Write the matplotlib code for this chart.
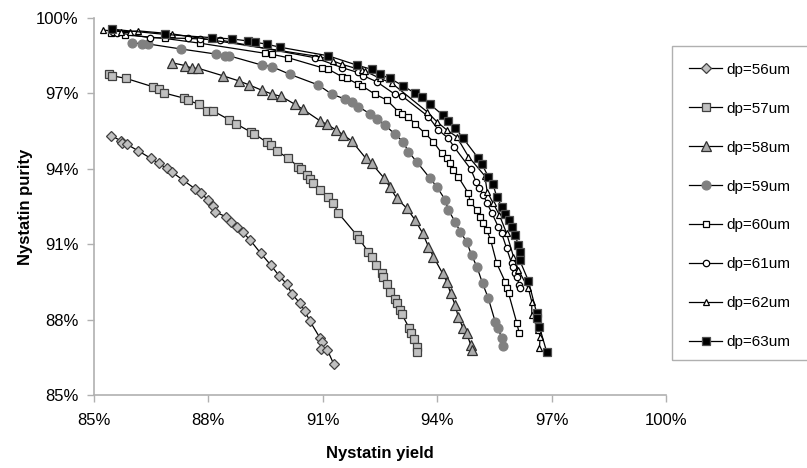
import numpy as np
import matplotlib as mpl
mpl.use('Agg')
import matplotlib.pyplot as plt
from matplotlib.ticker import FuncFormatter
from matplotlib.patches import Rectangle

plt.rcParams['font.family'] = ['Liberation Sans', 'DejaVu Sans']

# yield [%] / purity [%] for each particle diameter
yield56 = [85.45,85.71,85.74,85.86,86.15,86.49,86.70,86.91,87.05,87.33,87.66,87.80,88.00,88.13,88.18,88.46,88.60,
           88.74,88.90,89.09,89.37,89.64,89.86,90.05,90.19,90.40,90.53,90.66,90.93,90.99,90.96,91.12,91.29]
pur56   = [95.31,95.11,95.01,94.97,94.72,94.41,94.21,94.01,93.86,93.55,93.19,93.02,92.76,92.52,92.28,92.09,91.89,
           91.70,91.47,91.17,90.64,90.16,89.73,89.42,89.02,88.65,88.34,87.94,87.26,87.11,86.82,86.79,86.22]

yield57 = [85.39,85.46,85.84,86.56,86.70,86.84,87.37,87.46,87.76,87.96,88.13,88.54,88.72,89.12,89.20,89.53,89.63,
           89.79,90.09,90.36,90.42,90.58,90.66,90.74,90.93,91.13,91.28,91.41,91.89,91.96,92.19,92.28,92.40,92.55,
           92.59,92.69,92.76,92.89,92.94,93.03,93.07,93.27,93.31,93.39,93.46,93.46]
pur57   = [97.75,97.70,97.59,97.25,97.17,97.01,96.80,96.72,96.56,96.29,96.29,95.95,95.79,95.45,95.39,95.05,94.94,
           94.72,94.41,94.08,93.99,93.75,93.59,93.44,93.15,92.86,92.62,92.23,91.36,91.19,90.70,90.50,90.17,89.84,
           89.71,89.42,89.11,88.81,88.65,88.38,88.22,87.65,87.48,87.22,86.92,86.72]

yield58 = [87.05,87.39,87.58,87.74,88.37,88.80,89.07,89.40,89.68,89.90,90.27,90.47,90.93,91.10,91.35,91.54,91.76,
           92.13,92.28,92.61,92.76,92.94,93.20,93.42,93.62,93.77,93.90,94.14,94.25,94.35,94.47,94.55,94.68,94.77,
           94.88,94.90]
pur58   = [98.21,98.10,97.99,97.99,97.70,97.49,97.33,97.12,96.96,96.88,96.56,96.37,95.90,95.77,95.54,95.34,95.10,
           94.41,94.21,93.62,93.26,92.82,92.43,91.96,91.43,90.90,90.50,89.84,89.51,89.05,88.58,88.12,87.65,87.46,
           86.99,86.79]

yield59 = [85.99,86.27,86.42,87.28,88.19,88.44,88.54,89.40,89.66,90.14,90.88,91.23,91.58,91.76,91.93,92.24,92.41,
           92.63,92.89,93.11,93.24,93.46,93.81,93.99,94.21,94.29,94.47,94.60,94.77,94.90,95.04,95.19,95.34,95.52,
           95.60,95.69,95.73]
pur59   = [99.01,98.96,98.96,98.76,98.56,98.49,98.49,98.12,98.06,97.75,97.33,96.97,96.77,96.64,96.47,96.18,95.98,
           95.74,95.37,95.07,94.68,94.28,93.62,93.28,92.76,92.36,91.89,91.50,91.10,90.57,90.10,89.44,88.85,87.92,
           87.65,87.26,86.95]

yield60 = [85.45,85.81,86.86,87.78,89.48,89.66,90.10,90.97,91.14,91.50,91.63,91.93,92.02,92.37,92.68,92.98,93.07,
           93.24,93.42,93.68,93.90,94.12,94.25,94.34,94.42,94.55,94.82,94.86,95.04,95.12,95.21,95.30,95.40,95.56,
           95.78,95.82,95.87,96.09,96.15]
pur60   = [99.38,99.32,99.18,98.99,98.59,98.55,98.41,98.02,97.96,97.66,97.59,97.36,97.30,96.96,96.73,96.27,96.16,
           96.07,95.77,95.41,95.07,94.61,94.41,94.21,93.95,93.68,93.02,92.69,92.36,92.09,91.83,91.56,91.17,90.24,
           89.51,89.24,89.05,87.85,87.46]

yield61 = [85.51,85.60,86.47,87.47,87.78,88.30,90.80,91.50,91.91,92.06,92.41,92.89,93.07,93.77,94.03,94.29,94.44,
           94.88,95.02,95.10,95.21,95.30,95.43,95.60,95.69,95.82,95.95,95.98,96.04,96.09,96.15,96.17]
pur61   = [99.45,99.41,99.21,99.18,99.16,99.12,98.41,98.02,97.83,97.70,97.46,96.96,96.90,96.07,95.54,95.21,94.87,
           93.98,93.48,93.24,92.95,92.65,92.25,91.69,91.43,90.84,90.24,90.10,89.84,89.71,89.38,89.24]

yield62 = [85.24,85.71,85.94,86.16,87.05,90.93,91.28,91.50,92.02,92.11,92.50,92.81,93.73,93.99,94.25,94.51,94.82,
           95.25,95.31,95.47,95.63,95.82,96.00,96.13,96.39,96.48,96.48,96.65,96.70,96.68]
pur62   = [99.51,99.45,99.45,99.48,99.36,98.45,98.28,98.15,97.92,97.88,97.59,97.40,96.27,95.87,95.54,95.27,94.48,
           93.71,93.09,92.62,92.16,91.43,90.50,89.97,89.24,88.71,88.18,87.59,87.32,86.86]

yield63 = [85.46,86.86,88.09,88.61,89.03,89.22,89.53,89.88,91.14,91.89,92.28,92.50,92.76,93.11,93.42,93.59,93.81,
           94.14,94.29,94.47,94.67,95.08,95.17,95.34,95.46,95.56,95.69,95.78,95.87,95.95,96.04,96.13,96.16,96.16,
           96.39,96.61,96.61,96.68,96.87]
pur63   = [99.55,99.34,99.21,99.16,99.08,99.03,98.95,98.83,98.49,98.12,97.95,97.75,97.59,97.29,97.00,96.86,96.56,
           96.14,95.90,95.63,95.23,94.41,94.19,93.68,93.39,92.89,92.49,92.20,91.96,91.69,91.36,90.97,90.70,90.37,
           89.55,88.25,88.05,87.72,86.72]

labels = ['dp=56um','dp=57um','dp=58um','dp=59um','dp=60um','dp=61um','dp=62um','dp=63um']
xdata  = [yield56,yield57,yield58,yield59,yield60,yield61,yield62,yield63]
ydata  = [pur56,pur57,pur58,pur59,pur60,pur61,pur62,pur63]

# marker, size, face, edge
styles = [('D',5.2,'#c0c0c0','#404040'),
          ('s',6.0,'#c0c0c0','#404040'),
          ('^',7.2,'#ababab','#303030'),
          ('o',6.4,'#808080','#808080'),
          ('s',4.6,'white','black'),
          ('o',4.6,'white','black'),
          ('^',5.0,'white','black'),
          ('s',5.2,'black','#505050')]

fig = plt.figure(figsize=(8.07,4.68),dpi=100)
ax = fig.add_axes([94/807, 1-395/468, 572/807, (395-17.8)/468])

for i in range(len(labels)):
  m,ms,fc,ec = styles[i]
  ax.plot(xdata[i],ydata[i],color='black',lw=0.9,marker=m,ms=ms,mfc=fc,mec=ec,mew=0.9,label=labels[i])

ax.set_xlim([85,100])
ax.set_ylim([85,100])
ax.set_xticks(np.arange(85,101,3))
ax.set_yticks(np.arange(85,101,3))
pct = FuncFormatter(lambda v,p: '%d%%'%round(v))
ax.xaxis.set_major_formatter(pct)
ax.yaxis.set_major_formatter(pct)
ax.tick_params(labelsize=12,color='#b0b0b0',length=5,width=1,labelcolor='black')
ax.tick_params(axis='x',pad=8)
ax.tick_params(axis='y',pad=6)
for s in ['top','right']:
  ax.spines[s].set_visible(False)
for s in ['left','bottom']:
  ax.spines[s].set_color('#b0b0b0')
  ax.spines[s].set_linewidth(1.2)

ax.set_xlabel('Nystatin yield',fontsize=12,fontweight='bold',labelpad=13)
ax.set_ylabel('Nystatin purity',fontsize=12,fontweight='bold',labelpad=2)

# legend box runs off the right edge of the figure
leg = fig.legend(loc='upper left',bbox_to_anchor=(672/807,1-46/468),fontsize=11,frameon=False,
                 handlelength=2.2,handletextpad=0.25,labelspacing=1.63,borderpad=1.1,borderaxespad=0)
fig.patches.append(Rectangle((672/807,1-360/468),0.25,(360-46)/468,transform=fig.transFigure,
                             fill=False,edgecolor='#b0b0b0',lw=1.0))

plt.savefig('out.png',dpi=100)
plt.close()
